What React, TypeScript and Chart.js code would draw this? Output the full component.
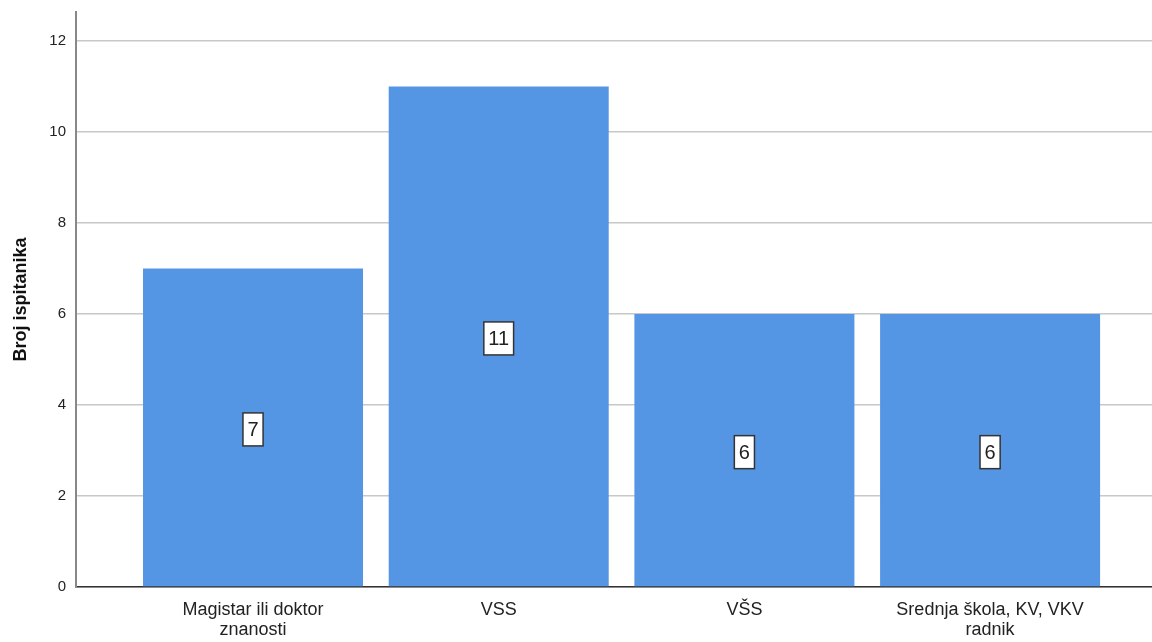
import React, { useEffect, useRef } from "react";
import { Chart, registerables } from "chart.js";

Chart.register(...registerables);

const categories: string[][] = [
  ["Magistar ili doktor", "znanosti"],
  ["VSS"],
  ["VŠS"],
  ["Srednja škola, KV, VKV", "radnik"],
];
const counts: number[] = [7, 11, 6, 6];
const yTicks: number[] = [0, 2, 4, 6, 8, 10, 12];
const yTitle = "Broj ispitanika";

const FONT = "'Liberation Sans', Arial, sans-serif";

const labelPlugin = {
  id: "boxLabels",
  afterDatasetsDraw(chart: any) {
    const ctx = chart.ctx;
    const meta = chart.getDatasetMeta(0);
    ctx.save();
    ctx.font = `20px ${FONT}`;
    ctx.textAlign = "center";
    ctx.textBaseline = "middle";
    meta.data.forEach((el: any, i: number) => {
      const v = counts[i];
      const text = String(v);
      const cx = el.x;
      const cy = (el.y + el.base) / 2 + 2;
      const w = ctx.measureText(text).width + 9;
      const h = 33;
      ctx.fillStyle = "#ffffff";
      ctx.fillRect(cx - w / 2, cy - h / 2, w, h);
      ctx.strokeStyle = "#333333";
      ctx.lineWidth = 1.5;
      ctx.strokeRect(cx - w / 2, cy - h / 2, w, h);
      ctx.fillStyle = "#222222";
      ctx.fillText(text, cx, cy + 1);
    });
    ctx.restore();
  },
};

export default function App() {
  const ref = useRef<HTMLCanvasElement | null>(null);
  useEffect(() => {
    if (!ref.current) return;
    const data = counts.map((v, i) => ({ x: i, y: v }));
    const chart = new Chart(ref.current, {
      type: "bar",
      data: {
        datasets: [
          {
            data: data as any,
            backgroundColor: "#5596e4",
            borderWidth: 0,
            categoryPercentage: 1,
            barPercentage: 0.8955,
          },
        ],
      },
      options: {
        animation: false,
        responsive: false,
        maintainAspectRatio: false,
        layout: { padding: { top: 12, right: 0, left: 0, bottom: 0 } },
        plugins: { legend: { display: false }, tooltip: { enabled: false } },
        scales: {
          x: {
            type: "linear",
            offset: false,
            min: -0.7205,
            max: 3.659,
            afterBuildTicks: (scale: any) => {
              scale.ticks = categories.map((_, i) => ({ value: i }));
            },
            afterFit: (scale: any) => {
              scale.height = 55;
              scale.paddingLeft = 0;
              scale.paddingRight = 0;
            },
            grid: { display: false, drawTicks: false },
            border: { display: true, color: "#333333", width: 1.5 },
            ticks: {
              autoSkip: false,
              maxRotation: 0,
              padding: 13,
              color: "#222222",
              font: { family: FONT, size: 18, lineHeight: 1.1 },
              callback: (v: any) => categories[Math.round(Number(v))] as any,
            },
          },
          y: {
            min: 0,
            max: 12.64,
            afterBuildTicks: (scale: any) => {
              scale.ticks = yTicks.map((v) => ({ value: v }));
            },
            afterFit: (scale: any) => {
              scale.width = 76;
              scale.paddingTop = 0;
              scale.paddingBottom = 0;
            },
            grid: { color: "#c8c8c8", lineWidth: 1.5, drawTicks: false },
            border: { display: true, color: "#888888", width: 2 },
            ticks: {
              padding: 10,
              color: "#222222",
              font: { family: FONT, size: 15 },
            },
            title: {
              display: true,
              text: yTitle,
              color: "#111111",
              font: { family: FONT, size: 18, weight: "bold" },
              padding: { top: 10, bottom: 8 },
            },
          },
        },
      },
      plugins: [labelPlugin],
    } as any);
    return () => chart.destroy();
  }, []);
  return (
    <div style={{ position: "fixed", left: 0, top: 0, width: 1152, height: 642, background: "#fff" }}>
      <canvas ref={ref} width={1152} height={642} style={{ display: "block" }} />
    </div>
  );
}
